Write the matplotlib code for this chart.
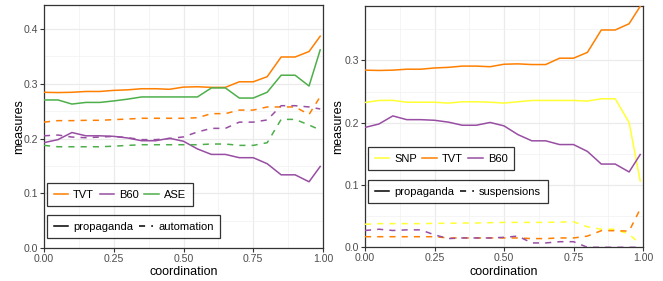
import matplotlib
matplotlib.use("Agg")
import matplotlib.pyplot as plt
from matplotlib.lines import Line2D
from matplotlib.ticker import MultipleLocator

plt.rcParams['font.family'] = ['Liberation Sans', 'DejaVu Sans']

coordination = [0.0, 0.05, 0.1, 0.15, 0.2, 0.25, 0.3, 0.35, 0.4, 0.45, 0.5,
                 0.55, 0.6, 0.65, 0.7, 0.75, 0.8, 0.85, 0.9, 0.95, 0.99]

# propaganda (solid)
tvt_prop = [0.2845, 0.284, 0.2845, 0.286, 0.286, 0.288, 0.289, 0.291, 0.291, 0.290, 0.294,
            0.2946, 0.2935, 0.2935, 0.3037, 0.3037, 0.313, 0.349, 0.349, 0.359, 0.387]
b60_prop = [0.1925, 0.198, 0.211, 0.205, 0.205, 0.204, 0.201, 0.196, 0.196, 0.2005, 0.195,
            0.181, 0.171, 0.171, 0.165, 0.165, 0.154, 0.1337, 0.1337, 0.121, 0.149]
ase_prop = [0.2705, 0.2705, 0.263, 0.266, 0.266, 0.2687, 0.272, 0.276, 0.276, 0.276, 0.276,
            0.276, 0.2925, 0.2925, 0.274, 0.274, 0.2846, 0.3157, 0.3157, 0.296, 0.362]
snp_prop = [0.2326, 0.2358, 0.236, 0.233, 0.233, 0.233, 0.2316, 0.2337, 0.2337, 0.233, 0.2316,
            0.2337, 0.2358, 0.2358, 0.2358, 0.2358, 0.2348, 0.2385, 0.2385, 0.2005, 0.1064]

# automation (dashed, left panel)
tvt_auto = [0.230, 0.2327, 0.2327, 0.2333, 0.2333, 0.2345, 0.2357, 0.237, 0.237, 0.237, 0.237,
            0.238, 0.2455, 0.2455, 0.252, 0.252, 0.2577, 0.2577, 0.2577, 0.244, 0.2766]
b60_auto = [0.205, 0.2064, 0.2027, 0.2015, 0.2027, 0.204, 0.2015, 0.198, 0.198, 0.200, 0.203,
            0.212, 0.2186, 0.2186, 0.230, 0.230, 0.234, 0.260, 0.260, 0.2577, 0.254]
ase_auto = [0.1875, 0.185, 0.185, 0.185, 0.185, 0.186, 0.1875, 0.1887, 0.1887, 0.1887, 0.1887,
            0.1887, 0.190, 0.190, 0.1875, 0.1875, 0.1924, 0.235, 0.235, 0.2247, 0.2156]

# suspensions (dashed, right panel)
snp_susp = [0.037, 0.038, 0.038, 0.038, 0.038, 0.0385, 0.0385, 0.039, 0.039, 0.0395, 0.040,
            0.040, 0.040, 0.040, 0.0405, 0.041, 0.033, 0.029, 0.029, 0.021, 0.005]
tvt_susp = [0.017, 0.017, 0.017, 0.017, 0.017, 0.017, 0.015, 0.015, 0.015, 0.015, 0.015,
            0.015, 0.014, 0.014, 0.015, 0.015, 0.018, 0.0267, 0.0267, 0.026, 0.0615]
b60_susp = [0.027, 0.029, 0.027, 0.028, 0.028, 0.020, 0.014, 0.015, 0.015, 0.015, 0.016,
            0.018, 0.007, 0.007, 0.009, 0.009, 0.0, 0.0, 0.0, 0.0, 0.0]

left_names = ["TVT", "B60", "ASE"]
right_names = ["SNP", "TVT", "B60"]
colors = {"TVT": "#FF7F00", "B60": "#984EA3", "ASE": "#4DAF4A", "SNP": "#FFFF33"}

W, H = 663, 281
fig = plt.figure(figsize=(W / 100, H / 100), dpi=100)

def frac(x0, y0, x1, y1):
    return [x0 / W, 1 - y1 / H, (x1 - x0) / W, (y1 - y0) / H]

ax1 = fig.add_axes(frac(44, 5, 323, 248))
ax2 = fig.add_axes(frac(365, 5.7, 643, 247.3))

LW = 1.1
DASH = (0, (4, 4))

def style(ax, ymax, yticks, xlab_y, ylab_x):
    ax.set_xlim(0, 1)
    ax.set_ylim(0, ymax)
    ax.set_xticks([0, 0.25, 0.5, 0.75, 1.0])
    ax.set_xticklabels(["0.00", "0.25", "0.50", "0.75", "1.00"])
    ax.set_yticks(yticks)
    ax.set_yticklabels([f"{v:.1f}" for v in yticks])
    ax.xaxis.set_minor_locator(MultipleLocator(0.125))
    ax.yaxis.set_minor_locator(MultipleLocator(0.05))
    ax.grid(which="major", color="#EBEBEB", lw=0.9, zorder=0)
    ax.grid(which="minor", color="#F2F2F2", lw=0.5, zorder=0)
    ax.set_axisbelow(True)
    ax.tick_params(which="major", direction="out", length=3, width=0.8, color="#333333",
                   labelsize=7.6, labelcolor="#4D4D4D", pad=1.0)
    ax.tick_params(which="minor", length=0)
    for s in ax.spines.values():
        s.set_color("#333333")
        s.set_linewidth(0.9)
    ax.set_xlabel("coordination", fontsize=9)
    ax.set_ylabel("measures", fontsize=9)
    ax.xaxis.label.set_va("baseline")
    ax.yaxis.label.set_va("baseline")
    ax.xaxis.set_label_coords(0.5, xlab_y)
    ax.yaxis.set_label_coords(ylab_x, 0.5)

style(ax1, 0.444, [0.0, 0.1, 0.2, 0.3, 0.4], -0.111, -0.080)
style(ax2, 0.388, [0.0, 0.1, 0.2, 0.3], -0.1147, -0.084)

left_solid = {"TVT": tvt_prop, "B60": b60_prop, "ASE": ase_prop}
left_dash = {"TVT": tvt_auto, "B60": b60_auto, "ASE": ase_auto}
right_solid = {"SNP": snp_prop, "TVT": tvt_prop, "B60": b60_prop}
right_dash = {"SNP": snp_susp, "TVT": tvt_susp, "B60": b60_susp}

for n in left_names:
    ax1.plot(coordination, left_solid[n], color=colors[n], lw=LW, zorder=3)
    ax1.plot(coordination, left_dash[n], color=colors[n], lw=LW, ls=DASH, zorder=3)
for n in right_names:
    ax2.plot(coordination, right_solid[n], color=colors[n], lw=LW, zorder=3)
    ax2.plot(coordination, right_dash[n], color=colors[n], lw=LW, ls=DASH, zorder=3)

def legends(ax, names, dash_label, y_color, y_type):
    hc = [Line2D([], [], color=colors[n], lw=LW) for n in names]
    kw = dict(ncol=3, fontsize=8, frameon=True, fancybox=False, edgecolor="black",
              handlelength=1.3, handletextpad=0.45, columnspacing=0.5,
              borderpad=0.6, borderaxespad=0, loc="upper left")
    l1 = ax.legend(hc, names, bbox_to_anchor=(0.011, y_color), **kw)
    l1.get_frame().set_linewidth(0.9)
    ax.add_artist(l1)
    ht = [Line2D([], [], color="black", lw=LW),
          Line2D([], [], color="black", lw=LW, ls=DASH)]
    kw["ncol"] = 2
    l2 = ax.legend(ht, ["propaganda", dash_label], bbox_to_anchor=(0.011, y_type), **kw)
    l2.get_frame().set_linewidth(0.9)
    for l in (l1, l2):
        l.set_zorder(5)

legends(ax1, left_names, "automation", 0.267, 0.136)
legends(ax2, right_names, "suspensions", 0.415, 0.279)

fig.savefig("out.png", dpi=100)
